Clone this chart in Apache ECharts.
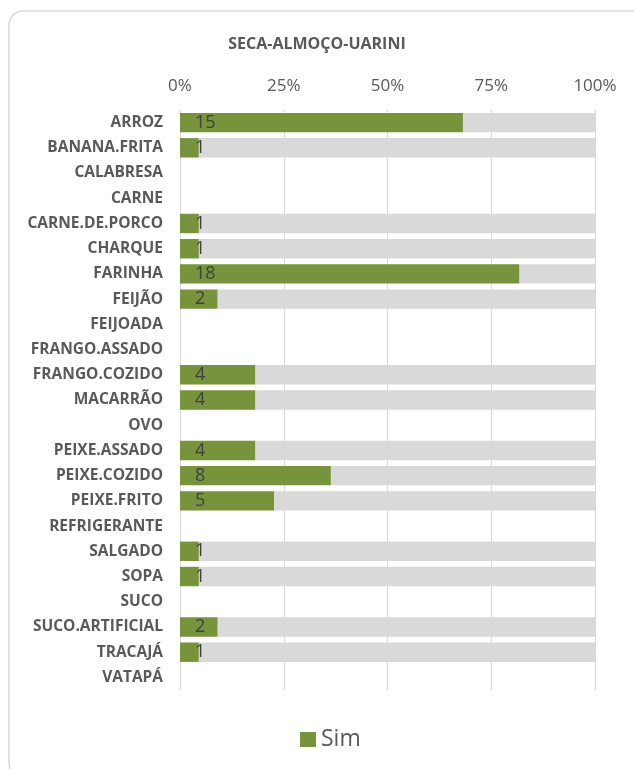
<!DOCTYPE html>
<html>
<head>
<meta charset="utf-8">
<script src="https://cdn.jsdelivr.net/npm/echarts@6/dist/echarts.min.js"></script>
<style>
  html, body { margin: 0; padding: 0; background: #fff; }
  #chart { width: 634px; height: 769px; }
</style>
</head>
<body>
<div id="chart"></div>
<script>
// Food items reported at lunch (dry season, Uarini)
const categories = [
  'ARROZ', 'BANANA.FRITA', 'CALABRESA', 'CARNE', 'CARNE.DE.PORCO', 'CHARQUE',
  'FARINHA', 'FEIJÃO', 'FEIJOADA', 'FRANGO.ASSADO', 'FRANGO.COZIDO', 'MACARRÃO',
  'OVO', 'PEIXE.ASSADO', 'PEIXE.COZIDO', 'PEIXE.FRITO', 'REFRIGERANTE', 'SALGADO',
  'SOPA', 'SUCO', 'SUCO.ARTIFICIAL', 'TRACAJÁ', 'VATAPÁ'
];
const simValues = [15, 1, 0, 0, 1, 1, 18, 2, 0, 0, 4, 4, 0, 4, 8, 5, 0, 1, 1, 0, 2, 1, 0];
const naoValues = [7, 21, 0, 0, 21, 21, 4, 20, 0, 0, 18, 18, 0, 18, 14, 17, 0, 21, 21, 0, 20, 21, 0];
const tickLabels = ['0%', '25%', '50%', '75%', '100%'];

// 100% stacking: share of each answer within its row
const totals = simValues.map((v, i) => v + naoValues[i]);
const pct = (arr) => arr.map((v, i) => totals[i] > 0 ? v / totals[i] * 100 : 0);
const simPct = pct(simValues);
const naoPct = pct(naoValues);

const FONT = 'Open Sans';
const chart = echarts.init(document.getElementById('chart'), null, { renderer: 'canvas' });

chart.setOption({
  backgroundColor: '#ffffff',
  animation: false,
  textStyle: { fontFamily: FONT },
  graphic: [{
    type: 'rect',
    shape: { x: 9, y: 11, width: 640, height: 766, r: 14 },
    style: { fill: 'none', stroke: '#d9d9d9', lineWidth: 1.5 },
    z: -10
  }],
  title: {
    text: 'SECA-ALMOÇO-UARINI',
    left: 'center',
    top: 31,
    textStyle: { fontFamily: FONT, fontSize: 16, fontWeight: 'bold', color: '#595959' }
  },
  legend: {
    data: ['Sim'],
    top: 723,
    left: 295,
    icon: 'rect',
    itemWidth: 16,
    itemHeight: 15,
    itemGap: 6,
    textStyle: { fontFamily: FONT, fontSize: 23, color: '#595959' }
  },
  grid: { left: 180, right: 39, top: 110, bottom: 79, containLabel: false },
  xAxis: {
    type: 'value',
    position: 'top',
    min: 0,
    max: 100,
    interval: 25,
    axisLine: { show: false },
    axisTick: { show: false },
    splitLine: { show: true, lineStyle: { color: '#d9d9d9', width: 1 } },
    axisLabel: {
      margin: 15,
      fontFamily: FONT,
      fontSize: 17,
      color: '#595959',
      formatter: (v) => tickLabels[Math.round(v / 25)]
    }
  },
  yAxis: {
    type: 'category',
    data: categories,
    inverse: true,
    axisLine: { show: false },
    axisTick: { show: false },
    axisLabel: {
      margin: 17,
      fontFamily: FONT,
      fontSize: 15.5,
      fontWeight: 'bold',
      color: '#595959'
    }
  },
  series: [
    {
      name: 'Sim',
      type: 'bar',
      stack: 'total',
      data: simPct,
      barCategoryGap: '23%',
      itemStyle: { color: '#77933c' },
      label: {
        show: true,
        position: 'insideLeft',
        distance: 15,
        fontFamily: FONT,
        fontSize: 18,
        color: '#404040',
        formatter: (p) => simValues[p.dataIndex] > 0 ? String(simValues[p.dataIndex]) : ''
      }
    },
    {
      name: 'Não',
      type: 'bar',
      stack: 'total',
      data: naoPct,
      barCategoryGap: '23%',
      itemStyle: { color: '#d9d9d9' }
    }
  ]
});
</script>
</body>
</html>
